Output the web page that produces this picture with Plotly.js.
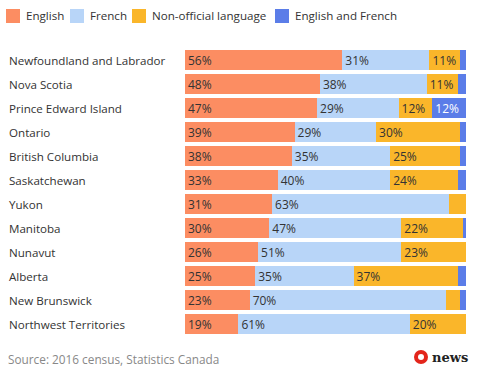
<!DOCTYPE html>
<html>
<head>
<meta charset="utf-8">
<script src="https://cdn.plot.ly/plotly-3.0.1.min.js"></script>
<style>html,body{margin:0;padding:0;background:#fff;}#chart{width:478px;height:377px;}</style>
</head>
<body>
<div id="chart"></div>
<script>
var provinces = ["Newfoundland and Labrador","Nova Scotia","Prince Edward Island","Ontario","British Columbia","Saskatchewan","Yukon","Manitoba","Nunavut","Alberta","New Brunswick","Northwest Territories"];
var seriesNames = ["English","French","Non-official language","English and French"];
var english = [56,48,47,39,38,33,31,30,26,25,23,19];
var french = [31,38,29,29,35,40,63,47,51,35,70,61];
var nonOfficial = [11,11,12,30,25,24,6,22,23,37,5,20];
var englishFrench = [2,3,12,2,2,3,0,1,0,3,2,0];
var colors = ["#fc8d62","#b8d5f8","#fab62a","#5b7de8"];
var sourceText = "Source: 2016 census, Statistics Canada";

var series = [english, french, nonOfficial, englishFrench];
var FONT = "Open Sans, Noto Sans, sans-serif";

var traces = series.map(function(vals, i){
  return {
    type: "bar",
    orientation: "h",
    name: seriesNames[i],
    y: provinces,
    x: vals,
    marker: {color: colors[i], line: {width: 0}},
    text: vals.map(function(v){ return v >= 10 ? v + "%" : ""; }),
    texttemplate: "%{text}",
    textposition: "inside",
    insidetextanchor: "start",
    textangle: 0,
    constraintext: "none",
    textfont: {family: FONT, size: 12, color: i === 3 ? "#ffffff" : "#333333"},
    hoverinfo: "skip",
    showlegend: false
  };
});

// plot area geometry helpers
var L = 185, R = 466, T = 48, B = 336;
function px(x){ return (x - L) / (R - L); }
function py(y){ return (B - y) / (B - T); }

var annotations = provinces.map(function(p){
  return {xref:"paper", yref:"y", x: px(7), y: p, xanchor:"left", yanchor:"middle",
          text: p, showarrow:false, font:{family:FONT, size:11.6, color:"#333333"}};
});

var shapes = [];
var legendX = [6, 70, 132, 275];
seriesNames.forEach(function(n, i){
  shapes.push({type:"rect", xref:"paper", yref:"paper",
    x0: px(legendX[i]), x1: px(legendX[i]+14), y0: py(23), y1: py(9),
    fillcolor: colors[i], line:{width:0}});
  annotations.push({xref:"paper", yref:"paper", x: px(legendX[i]+18), y: py(16),
    xanchor:"left", yanchor:"middle", text:n, showarrow:false,
    font:{family:FONT, size:11.6, color:"#333333"}});
});

annotations.push({xref:"paper", yref:"paper", x: px(6), y: py(359), xanchor:"left", yanchor:"middle",
  text: sourceText, showarrow:false, font:{family:FONT, size:11.8, color:"#888888"}});
annotations.push({xref:"paper", yref:"paper", x: px(430), y: py(357), xanchor:"left", yanchor:"middle",
  text: "<b>news</b>", showarrow:false, font:{family:"DejaVu Serif, serif", size:13, color:"#222222"}});
shapes.push({type:"circle", xref:"paper", yref:"paper", x0:px(414), x1:px(428), y0:py(364), y1:py(350),
  fillcolor:"#e3251b", line:{width:0}});
shapes.push({type:"circle", xref:"paper", yref:"paper", x0:px(418), x1:px(424), y0:py(360), y1:py(354),
  fillcolor:"#ffffff", line:{width:0}});

var layout = {
  width: 478, height: 377,
  margin: {l: L, r: 478 - R, t: T, b: 377 - B, pad: 0},
  barmode: "stack",
  bargap: 4/24,
  paper_bgcolor: "#ffffff",
  plot_bgcolor: "#ffffff",
  showlegend: false,
  xaxis: {range: [0, 100], visible: false, fixedrange: true},
  yaxis: {autorange: "reversed", showticklabels: false, showgrid: false, zeroline: false, showline: false, ticks: "", fixedrange: true},
  font: {family: FONT, size: 12, color: "#333333"},
  annotations: annotations,
  shapes: shapes
};

Plotly.newPlot("chart", traces, layout, {displayModeBar: false, staticPlot: true});
</script>
</body>
</html>
